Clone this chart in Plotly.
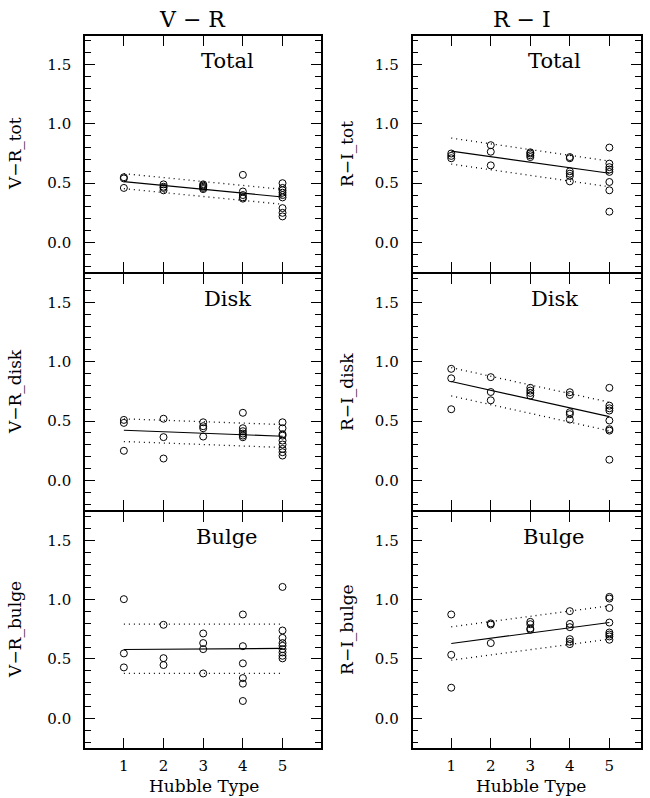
import plotly.graph_objects as go

# ---------------- data ----------------
types = [1, 2, 3, 4, 5]

vr_tot = [[0.55, 0.54, 0.46],
          [0.49, 0.47, 0.46, 0.44],
          [0.49, 0.48, 0.47, 0.46, 0.45],
          [0.57, 0.43, 0.40, 0.38, 0.37],
          [0.50, 0.46, 0.44, 0.42, 0.40, 0.38, 0.29, 0.25, 0.22]]
vr_tot_fit = [0.513, 0.384]
vr_tot_up = [0.580, 0.448]
vr_tot_lo = [0.454, 0.322]

ri_tot = [[0.75, 0.73, 0.71],
          [0.82, 0.765, 0.65],
          [0.76, 0.75, 0.735, 0.72],
          [0.72, 0.71, 0.60, 0.58, 0.56, 0.515],
          [0.80, 0.665, 0.635, 0.615, 0.595, 0.51, 0.44, 0.26]]
ri_tot_fit = [0.770, 0.583]
ri_tot_up = [0.880, 0.686]
ri_tot_lo = [0.661, 0.470]

vr_disk = [[0.51, 0.485, 0.25],
           [0.52, 0.365, 0.185],
           [0.49, 0.457, 0.44, 0.37],
           [0.57, 0.44, 0.415, 0.395, 0.378, 0.364],
           [0.49, 0.44, 0.39, 0.378, 0.336, 0.303, 0.266, 0.238, 0.21]]
vr_disk_fit = [0.423, 0.373]
vr_disk_up = [0.519, 0.471]
vr_disk_lo = [0.328, 0.278]

ri_disk = [[0.94, 0.86, 0.60],
           [0.87, 0.745, 0.675],
           [0.78, 0.757, 0.737, 0.715],
           [0.743, 0.72, 0.575, 0.558, 0.513],
           [0.78, 0.63, 0.608, 0.589, 0.505, 0.432, 0.42, 0.175]]
ri_disk_fit = [0.833, 0.538]
ri_disk_up = [0.950, 0.659]
ri_disk_lo = [0.712, 0.418]

vr_bulge = [[1.004, 0.547, 0.429],
            [0.788, 0.507, 0.449],
            [0.715, 0.634, 0.583, 0.378],
            [0.875, 0.608, 0.463, 0.339, 0.292, 0.146],
            [1.107, 0.74, 0.678, 0.634, 0.611, 0.583, 0.555, 0.527, 0.505]]
vr_bulge_fit = [0.580, 0.589]
vr_bulge_up = [0.793, 0.793]
vr_bulge_lo = [0.378, 0.378]

ri_bulge = [[0.875, 0.535, 0.258],
            [0.80, 0.79, 0.634],
            [0.813, 0.793, 0.757, 0.746],
            [0.903, 0.796, 0.768, 0.667, 0.645, 0.625],
            [1.023, 1.009, 0.93, 0.807, 0.723, 0.706, 0.69, 0.662]]
ri_bulge_fit = [0.631, 0.807]
ri_bulge_up = [0.771, 0.948]
ri_bulge_lo = [0.490, 0.667]

fit_x = [1, 5]
column_titles = ["V − R", "R − I"]
panel_titles = ["Total", "Disk", "Bulge"]
y_titles = [["V−R_tot", "R−I_tot"], ["V−R_disk", "R−I_disk"], ["V−R_bulge", "R−I_bulge"]]
x_title = "Hubble Type"

panels = [
    [(vr_tot, vr_tot_fit, vr_tot_up, vr_tot_lo), (ri_tot, ri_tot_fit, ri_tot_up, ri_tot_lo)],
    [(vr_disk, vr_disk_fit, vr_disk_up, vr_disk_lo), (ri_disk, ri_disk_fit, ri_disk_up, ri_disk_lo)],
    [(vr_bulge, vr_bulge_fit, vr_bulge_up, vr_bulge_lo), (ri_bulge, ri_bulge_fit, ri_bulge_up, ri_bulge_lo)],
]

# ---------------- layout geometry ----------------
W, H = 650, 798
LW = 1.6
col_px = [(85, 321), (412.5, 641)]
col_xrange = [[0.02, 5.97], [0.02, 5.8]]
row_px = [(36, 272.2), (273.8, 510.2), (511.8, 748)]

SERIF = "DejaVu Serif"
TICKFONT = dict(family="DejaVu Serif", size=15, color="black")

fig = go.Figure()
layout = dict(
    width=W, height=H, margin=dict(l=0, r=0, t=0, b=0),
    paper_bgcolor="white", plot_bgcolor="white", showlegend=False,
)
annotations = []

idx = 0
for r in range(3):
    for c in range(2):
        idx += 1
        xa = "x" if idx == 1 else f"x{idx}"
        ya = "y" if idx == 1 else f"y{idx}"
        groups, fit, up, lo = panels[r][c]
        xs, ys = [], []
        for t, vals in zip(types, groups):
            xs += [t] * len(vals)
            ys += vals
        fig.add_trace(go.Scatter(x=xs, y=ys, mode="markers", xaxis=xa, yaxis=ya,
                                 marker=dict(symbol="circle-open", size=7, color="black",
                                             line=dict(width=1, color="black"))))
        fig.add_trace(go.Scatter(x=fit_x, y=fit, mode="lines", xaxis=xa, yaxis=ya,
                                 line=dict(color="black", width=1.1)))
        for band in (up, lo):
            fig.add_trace(go.Scatter(x=fit_x, y=band, mode="lines", xaxis=xa, yaxis=ya,
                                     line=dict(color="black", width=1.3, dash="1px,4px")))

        x0, x1 = col_px[c]
        y0, y1 = row_px[r]
        xkey = "xaxis" if idx == 1 else f"xaxis{idx}"
        ykey = "yaxis" if idx == 1 else f"yaxis{idx}"
        layout[xkey] = dict(
            domain=[x0 / W, x1 / W], range=col_xrange[c], anchor=ya,
            tickmode="array", tickvals=types, ticktext=[str(t) for t in types],
            ticks="inside", ticklen=10, tickwidth=1.2, tickcolor="black",
            showline=True, linecolor="black", linewidth=LW, mirror="allticks",
            showgrid=False, zeroline=False, showticklabels=(r == 2),
            tickfont=TICKFONT, ticklabelstandoff=3,
        )
        layout[ykey] = dict(
            domain=[1 - y1 / H, 1 - y0 / H], range=[-0.25, 1.74], anchor=xa,
            tickmode="linear", tick0=0, dtick=0.5, tickformat=".1f",
            ticks="inside", ticklen=10, tickwidth=1.2, tickcolor="black",
            minor=dict(dtick=0.1, tick0=0, ticks="inside", ticklen=6, tickwidth=1, tickcolor="black"),
            showline=True, linecolor="black", linewidth=LW, mirror="allticks",
            showgrid=False, zeroline=False, tickfont=TICKFONT, ticklabelstandoff=9,
        )
        annotations.append(dict(x=3.6, y=1.53, xref=xa, yref=ya, text=panel_titles[r],
                                xanchor="center", yanchor="middle",
                                showarrow=False, font=dict(family=SERIF, size=21, color="black")))
        annotations.append(dict(x=(15 if c == 0 else 347) / W, y=1 - (y0 + y1) / 2 / H,
                                xref="paper", yref="paper", text=y_titles[r][c], textangle=-90,
                                xanchor="center", yanchor="middle",
                                showarrow=False, font=dict(family=SERIF, size=17, color="black")))

for c in range(2):
    cx = [192, 522][c]
    annotations.append(dict(x=cx / W, y=1 - 19 / H, xref="paper", yref="paper",
                            text=column_titles[c], showarrow=False,
                            xanchor="center", yanchor="middle",
                            font=dict(family=SERIF, size=22, color="black")))
    hx = [204, 531][c]
    annotations.append(dict(x=hx / W, y=1 - 786 / H, xref="paper", yref="paper",
                            text=x_title, showarrow=False,
                            xanchor="center", yanchor="middle",
                            font=dict(family=SERIF, size=17, color="black")))

layout["annotations"] = annotations
fig.update_layout(**layout)
fig.write_html("out.html")
